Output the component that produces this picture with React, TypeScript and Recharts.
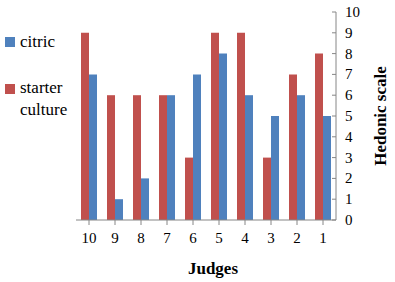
import React from 'react';
import { BarChart, Bar, XAxis, YAxis } from 'recharts';

const judges = ['10', '9', '8', '7', '6', '5', '4', '3', '2', '1'];
const starterCulture = [9, 6, 6, 6, 3, 9, 9, 3, 7, 8];
const citric = [7, 1, 2, 6, 7, 8, 6, 5, 6, 5];
const yTicks = [0, 1, 2, 3, 4, 5, 6, 7, 8, 9, 10];

const data = judges.map((j, i) => ({ judge: j, starter: starterCulture[i], citric: citric[i] }));

const RED = '#C0504D';
const BLUE = '#4F81BD';
const AXIS = '#868686';
const FONT = 'Times New Roman';

const YTick = (props: any) => {
  const { x, y, payload } = props;
  return (
    <g>
      <line x1={x - 9} y1={y} x2={x - 13} y2={y} stroke={AXIS} strokeWidth={1} />
      <text x={x} y={y} dy={5} textAnchor="start" fontSize={15} fontFamily={FONT} fill="#000">
        {payload.value}
      </text>
    </g>
  );
};

const XTick = (props: any) => {
  const { x, y, payload } = props;
  return (
    <text x={x} y={y} dy={12} textAnchor="middle" fontSize={15} fontFamily={FONT} fill="#000">
      {payload.value}
    </text>
  );
};

const YLabel = (props: any) => {
  const vb = props.viewBox || { x: 336, y: 12, width: 59, height: 208 };
  const cx = vb.x + 44;
  const cy = vb.y + vb.height / 2;
  return (
    <text
      x={cx}
      y={cy}
      transform={`rotate(-90 ${cx} ${cy})`}
      textAnchor="middle"
      dominantBaseline="central"
      fontSize={17}
      fontWeight="bold"
      fontFamily={FONT}
      fill="#000"
    >
      Hedonic scale
    </text>
  );
};

const XLabel = (props: any) => {
  const vb = props.viewBox || { x: 76, y: 220, width: 260, height: 62 };
  const cx = vb.x + vb.width / 2 + 7;
  const cy = vb.y + 48;
  return (
    <text x={cx} y={cy} dy={6} textAnchor="middle" fontSize={17} fontWeight="bold" fontFamily={FONT} fill="#000">
      Judges
    </text>
  );
};

export default function App() {
  return (
    <div style={{ position: 'absolute', left: 0, top: 0, width: 395, height: 282, background: '#fff' }}>
      <BarChart
        width={395}
        height={282}
        data={data}
        margin={{ top: 12, right: 0, bottom: 0, left: 76 }}
        barGap={0}
        barSize={8}
      >
        <XAxis
          dataKey="judge"
          height={62}
          axisLine={{ stroke: AXIS }}
          tickLine={{ stroke: AXIS }}
          tickSize={5}
          tickMargin={6}
          tick={<XTick />}
          interval={0}
          label={<XLabel />}
        />
        <YAxis
          orientation="right"
          width={59}
          domain={[0, 10]}
          ticks={yTicks}
          interval={0}
          axisLine={{ stroke: AXIS }}
          tickLine={false}
          tickSize={0}
          tickMargin={9}
          tick={<YTick />}
          label={<YLabel />}
        />
        <Bar dataKey="starter" name="starter culture" fill={RED} isAnimationActive={false} />
        <Bar dataKey="citric" name="citric" fill={BLUE} isAnimationActive={false} />
      </BarChart>
      <div
        style={{
          position: 'absolute',
          left: 5,
          top: 31,
          fontFamily: FONT,
          fontSize: 17,
          color: '#000',
          lineHeight: '22px',
        }}
      >
        <div style={{ display: 'flex', alignItems: 'center', height: 22 }}>
          <span style={{ display: 'inline-block', width: 10, height: 10, background: BLUE, marginRight: 5 }} />
          citric
        </div>
        <div style={{ display: 'flex', alignItems: 'flex-start', marginTop: 24 }}>
          <span style={{ display: 'inline-block', width: 10, height: 10, background: RED, marginRight: 5, marginTop: 7 }} />
          <span>
            starter
            <br />
            culture
          </span>
        </div>
      </div>
    </div>
  );
}
